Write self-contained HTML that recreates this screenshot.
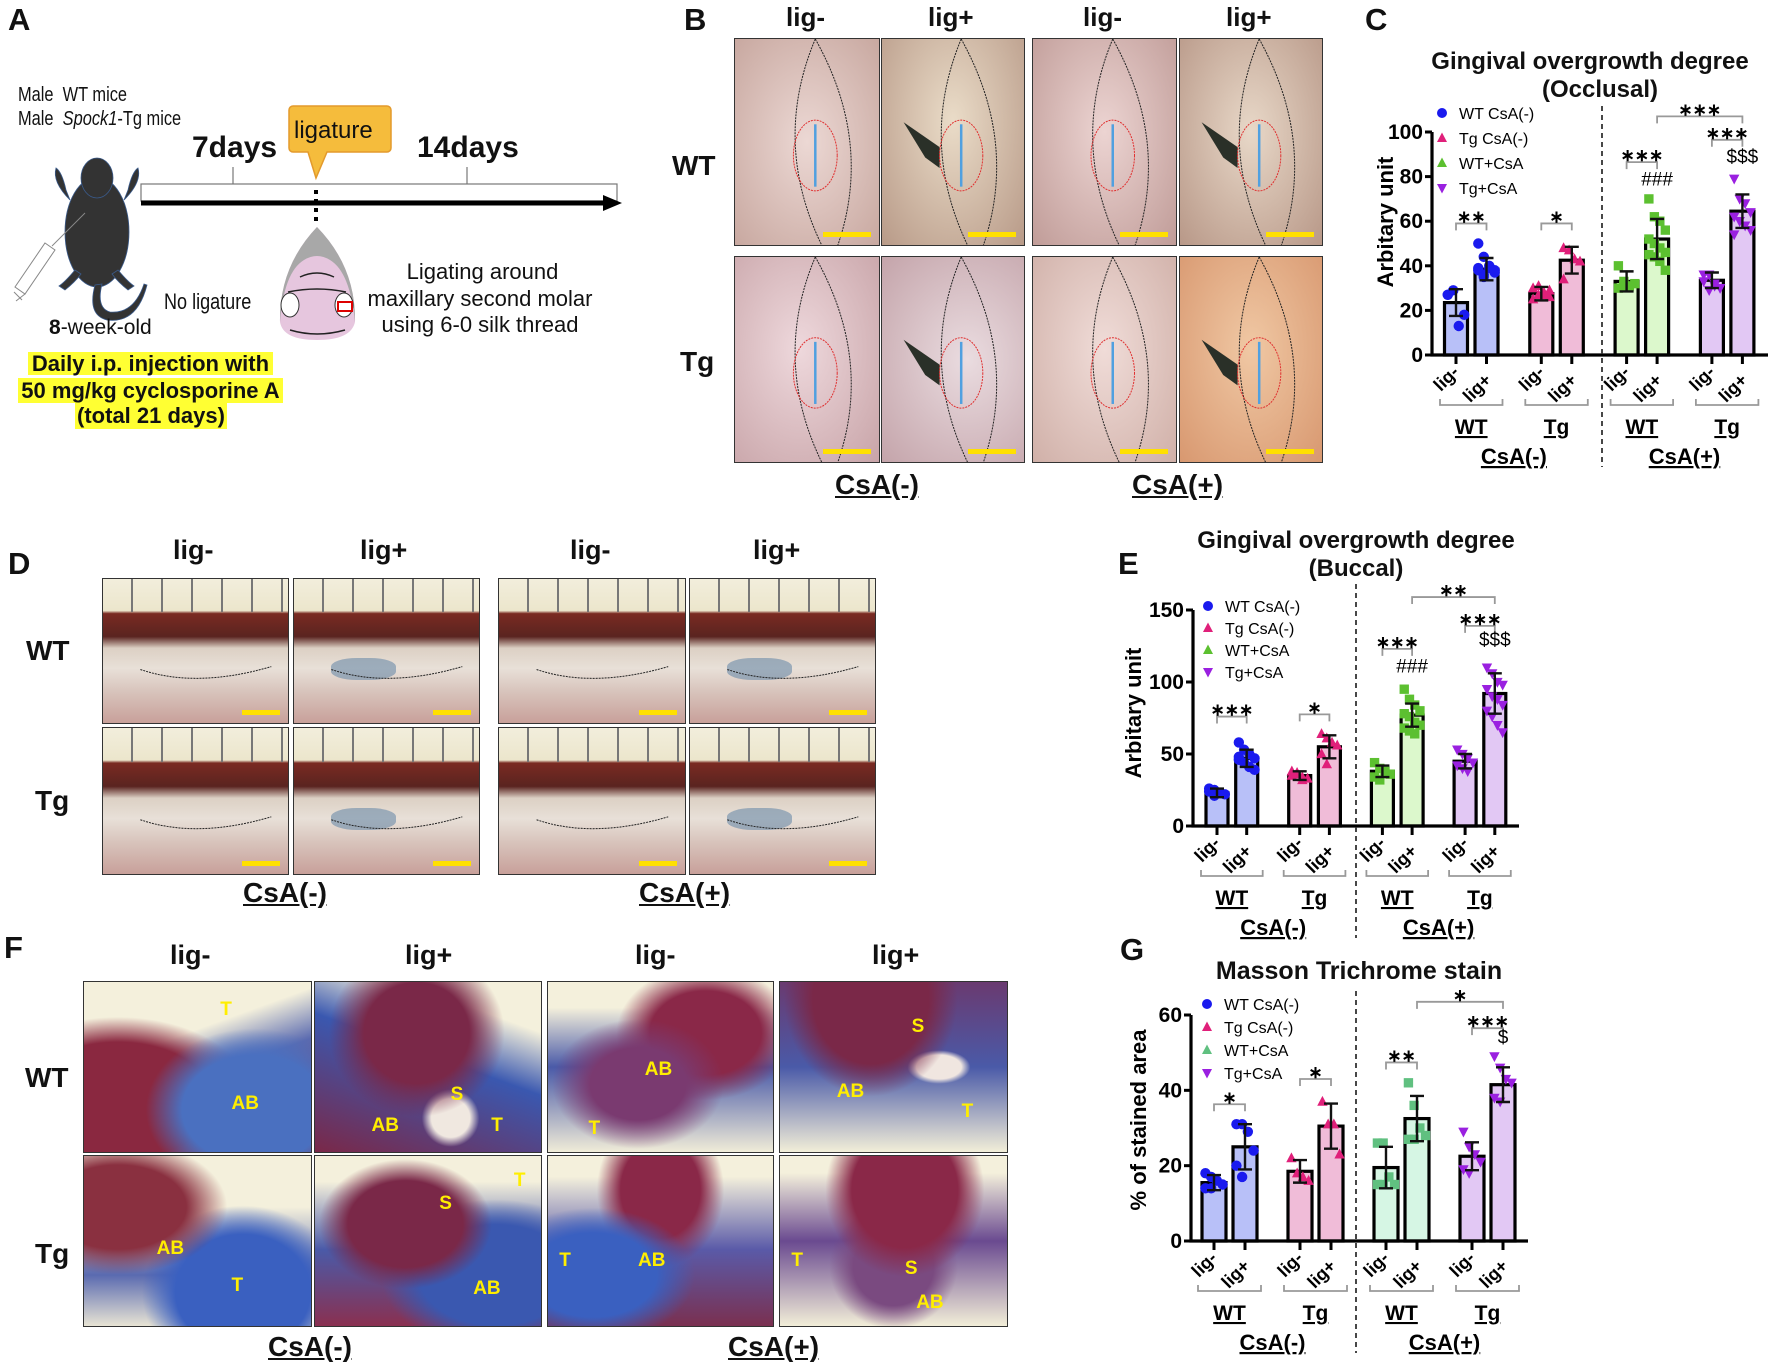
<!DOCTYPE html>
<html><head><meta charset="utf-8">
<style>
body{margin:0;background:#fff}
#page{position:relative;width:1772px;height:1365px;overflow:hidden;background:#fff;font-family:"Liberation Sans",Arial,sans-serif;color:#111}
.t{position:absolute;white-space:nowrap;line-height:1}
.b{font-weight:bold}
.lbl{font-weight:bold;font-size:31px}
.ph{position:absolute;border:1.5px solid #333;box-sizing:border-box;overflow:hidden}
.sb{position:absolute;height:5px;background:#ffe000;right:8px;bottom:8px;width:48px}
.yl{position:absolute;color:#ffee00;font-weight:bold;font-size:19px}
.n{display:inline-block;transform:scaleX(.82);transform-origin:left center}
</style></head><body>
<div id="page">

<div class="t lbl" style="left:8px;top:4px">A</div>
<div class="t" style="left:18px;top:85px;font-size:20px"><span class="n">Male&nbsp; WT mice</span></div>
<div class="t" style="left:18px;top:109px;font-size:20px"><span class="n">Male&nbsp; <i>Spock1</i>-Tg mice</span></div>
<div class="t b" style="left:192px;top:133px;font-size:30px">7days</div>
<div class="t b" style="left:417px;top:133px;font-size:30px">14days</div>
<svg style="position:absolute;left:0;top:0" width="640" height="450">
  <path d="M293,106 h94 a4,4 0 0 1 4,4 v38 a4,4 0 0 1 -4,4 h-60 l-11,26 l-8,-26 h-15 a4,4 0 0 1 -4,-4 v-38 a4,4 0 0 1 4,-4z" fill="#f5bc3c" stroke="#e39a2c" stroke-width="1.5"/>
  <rect x="141" y="184" width="476" height="17" fill="#fff" stroke="#777" stroke-width="1.2"/>
  <line x1="233" y1="167" x2="233" y2="184" stroke="#777" stroke-width="1.2"/>
  <line x1="467" y1="167" x2="467" y2="184" stroke="#777" stroke-width="1.2"/>
  <line x1="141" y1="203" x2="605" y2="203" stroke="#000" stroke-width="5"/>
  <polygon points="603,195 622,203 603,211" fill="#000"/>
  <line x1="316" y1="190" x2="316" y2="226" stroke="#000" stroke-width="4" stroke-dasharray="4,5"/>
  <g fill="#333" stroke="#3a5a8a" stroke-width="0.8">
    <ellipse cx="97" cy="232" rx="32" ry="55"/>
    <ellipse cx="97" cy="178" rx="16" ry="20"/>
    <path d="M70,200 q-18,-18 -14,-32 q6,4 10,22z"/>
    <path d="M124,200 q18,-18 14,-32 q-6,4 -10,22z"/>
    <path d="M75,270 q-10,12 -16,16 l6,4 q10,-8 16,-16z"/>
    <path d="M118,270 q10,12 16,16 l-6,4 q-10,-8 -16,-16z"/>
    <path d="M95,285 q-8,30 12,35 q30,4 40,-35 l-3,-1 q-10,30 -34,28 q-14,-4 -8,-28z"/>
  </g>
  <g stroke="#888" stroke-width="1" fill="#fff">
    <path d="M45,243 l10,7 l-30,44 l-10,-7z"/>
    <line x1="25" y1="294" x2="16" y2="301"/><line x1="14" y1="292" x2="22" y2="300"/>
    <line x1="52" y1="246" x2="85" y2="213"/>
  </g>
  <g>
    <path d="M317,227 q-38,40 -37,95 q3,18 37,18 q34,0 38,-18 q1,-55 -38,-95z" fill="#e6c6de"/>
    <path d="M317,227 q-38,40 -37,95 q4,-50 24,-62 q13,-8 26,0 q20,12 25,62 q1,-55 -38,-95z" fill="#a8a8a8"/>
    <path d="M300,277 q17,-8 34,0 M288,292 q29,-6 58,0 M290,330 q27,8 55,0" stroke="#222" fill="none" stroke-width="1.5"/>
    <ellipse cx="290" cy="305" rx="9" ry="12" fill="#fff" stroke="#333"/>
    <ellipse cx="344" cy="305" rx="9" ry="12" fill="#fff" stroke="#333"/>
    <rect x="338" y="302" width="14" height="9" fill="none" stroke="#d00" stroke-width="2"/>
  </g>
</svg>
<div class="t" style="left:164px;top:291px;font-size:22px"><span class="n">No ligature</span></div>
<div class="t" style="left:400px;top:261px;font-size:22px;width:165px;text-align:center">Ligating around</div>
<div class="t" style="left:360px;top:288px;font-size:22px;width:240px;text-align:center">maxillary second molar</div>
<div class="t" style="left:370px;top:314px;font-size:22px;width:220px;text-align:center">using 6-0 silk thread</div>
<div class="t" style="left:333px;top:119px;font-size:24px;width:0"><span style="position:absolute;left:-39px">ligature</span></div>
<div class="t" style="left:49px;top:317px;font-size:21px"><b>8</b>-week-old</div>
<div class="t b" style="left:28px;top:352px;font-size:22px;width:245px;height:23px;text-align:center;background:#ffff33;line-height:23px">Daily i.p. injection with</div>
<div class="t b" style="left:18px;top:378px;font-size:22px;width:265px;height:25px;text-align:center;background:#ffff33;line-height:25px">50 mg/kg cyclosporine A</div>
<div class="t b" style="left:75px;top:403px;font-size:22px;width:152px;height:26px;text-align:center;background:#ffff33;line-height:26px">(total 21 days)</div>

<div class="t lbl" style="left:684px;top:4px">B</div>
<div class="t b" style="left:786px;top:4px;font-size:26px">lig-</div>
<div class="t b" style="left:928px;top:4px;font-size:26px">lig+</div>
<div class="t b" style="left:1083px;top:4px;font-size:26px">lig-</div>
<div class="t b" style="left:1226px;top:4px;font-size:26px">lig+</div>
<div class="t b" style="left:672px;top:152px;font-size:28px">WT</div>
<div class="t b" style="left:680px;top:348px;font-size:28px">Tg</div>
<div class="t b" style="left:835px;top:471px;font-size:28px;text-decoration:underline">CsA(-)</div>
<div class="t b" style="left:1132px;top:471px;font-size:28px;text-decoration:underline">CsA(+)</div>
<div id="bphotos"></div>

<div class="t lbl" style="left:1365px;top:4px">C</div>
<div class="t b" style="left:1400px;top:50px;font-size:24px;width:380px;text-align:center">Gingival overgrowth degree</div>
<div class="t b" style="left:1400px;top:78px;font-size:24px;width:400px;text-align:center">(Occlusal)</div>

<div class="t lbl" style="left:8px;top:548px">D</div>
<div class="t b" style="left:173px;top:537px;font-size:27px">lig-</div>
<div class="t b" style="left:360px;top:537px;font-size:27px">lig+</div>
<div class="t b" style="left:570px;top:537px;font-size:27px">lig-</div>
<div class="t b" style="left:753px;top:537px;font-size:27px">lig+</div>
<div class="t b" style="left:26px;top:637px;font-size:28px">WT</div>
<div class="t b" style="left:35px;top:787px;font-size:28px">Tg</div>
<div class="t b" style="left:243px;top:879px;font-size:28px;text-decoration:underline">CsA(-)</div>
<div class="t b" style="left:639px;top:879px;font-size:28px;text-decoration:underline">CsA(+)</div>
<div id="dphotos"></div>

<div class="t lbl" style="left:1118px;top:548px">E</div>
<div class="t b" style="left:1180px;top:529px;font-size:24px;width:352px;text-align:center">Gingival overgrowth degree</div>
<div class="t b" style="left:1180px;top:557px;font-size:24px;width:352px;text-align:center">(Buccal)</div>

<div class="t lbl" style="left:4px;top:932px">F</div>
<div class="t b" style="left:170px;top:942px;font-size:27px">lig-</div>
<div class="t b" style="left:405px;top:942px;font-size:27px">lig+</div>
<div class="t b" style="left:635px;top:942px;font-size:27px">lig-</div>
<div class="t b" style="left:872px;top:942px;font-size:27px">lig+</div>
<div class="t b" style="left:25px;top:1064px;font-size:28px">WT</div>
<div class="t b" style="left:35px;top:1240px;font-size:28px">Tg</div>
<div class="t b" style="left:268px;top:1333px;font-size:28px;text-decoration:underline">CsA(-)</div>
<div class="t b" style="left:728px;top:1333px;font-size:28px;text-decoration:underline">CsA(+)</div>
<div id="fphotos"></div>

<div class="t lbl" style="left:1120px;top:934px">G</div>
<div class="t b" style="left:1180px;top:959px;font-size:25px;width:358px;text-align:center">Masson Trichrome stain</div>

<svg id="charts" style="position:absolute;left:0;top:0" width="1772" height="1365"></svg>
</div>

<script>
const groupNames = ["WT CsA(-)", "Tg CsA(-)", "WT+CsA", "Tg+CsA"];
const barLabels = ["lig-", "lig+"];
const genotypeLabels = ["WT", "Tg", "WT", "Tg"];
const treatmentLabels = ["CsA(-)", "CsA(+)"];

const cTicks = [0, 20, 40, 60, 80, 100];
const cMeans = [23.5, 38.5, 27.5, 42.5, 33, 52, 33.5, 64.5];
const cSD = [6, 5, 3, 6, 4.5, 9, 3.5, 7.5];
const cPoints = [
  [27, 29, 13, 18, 27],
  [50, 44, 39, 37, 38, 36, 40, 38, 39, 35],
  [25, 27, 28, 29, 30, 31, 27, 26],
  [48, 47, 43, 42, 34],
  [40, 33, 31, 32, 30, 31],
  [70, 62, 60, 56, 52, 50, 48, 46, 45, 44, 42, 38],
  [36, 36, 32, 30, 33, 29, 31],
  [79, 70, 68, 64, 62, 60, 58, 56, 54, 60]
];
const cSig = [[0, 1, 59, "**"], [2, 3, 59, "*"], [4, 5, 86.5, "***"], [6, 7, 96.5, "***"], [5, 7, 107, "***"]];
const cMarks = [[5, 76, "###"], [7, 86, "$$$"]];

const eTicks = [0, 50, 100, 150];
const eMeans = [23, 47, 35, 55, 38, 77, 45, 92];
const eSD = [3, 6, 3, 8, 4, 8, 5, 14];
const ePoints = [
  [26, 25, 23, 22, 24, 21],
  [58, 53, 50, 47, 46, 44, 41, 39, 48],
  [38, 36, 34, 33, 35, 37, 32],
  [64, 61, 58, 56, 50, 43],
  [44, 40, 38, 36, 34, 32],
  [95, 88, 84, 80, 78, 76, 72, 70, 68, 66, 64],
  [53, 50, 47, 44, 42, 40, 38],
  [110, 106, 100, 98, 95, 90, 88, 84, 80, 76, 70, 65]
];
const eSig = [[0, 1, 76, "***"], [2, 3, 77.5, "*"], [4, 5, 123, "***"], [6, 7, 139, "***"], [5, 7, 159, "**"]];
const eMarks = [[5, 106.5, "###"], [7, 125, "$$$"]];

const gTicks = [0, 20, 40, 60];
const gMeans = [15.5, 25, 18.5, 30.5, 19.5, 32.5, 22.5, 41.5];
const gSD = [2, 6, 3, 6, 5.5, 6, 3.7, 4.6];
const gPoints = [
  [18, 17, 16, 15, 14, 14],
  [31, 31, 29, 24, 20, 17],
  [22, 18, 17, 16],
  [37, 31, 31, 23],
  [26, 26, 17, 15, 15, 15],
  [42, 36, 30, 28, 27, 27],
  [29, 25, 23, 21, 19, 18],
  [49, 46, 43, 42, 38, 37]
];
const gSig = [[0, 1, 36.3, "*"], [2, 3, 43, "*"], [4, 5, 47.4, "**"], [6, 7, 56.5, "***"], [5, 7, 63.5, "*"]];
const gMarks = [[7, 52.5, "$"]];

const NS = "http://www.w3.org/2000/svg";
const svg = document.getElementById("charts");
function mk(tag, attrs, parent) {
  const e = document.createElementNS(NS, tag);
  for (const k in attrs) e.setAttribute(k, attrs[k]);
  (parent || svg).appendChild(e);
  return e;
}
function txt(parent, x, y, s, size, extra) {
  const e = mk("text", Object.assign({x: x, y: y, "font-size": size, "font-family": "Liberation Sans, Arial, sans-serif"}, extra || {}), parent);
  e.textContent = s;
  return e;
}
const markerColors = ["#1a1aee", "#e0207a", "#5cc030", "#9a20e0"];
function marker(parent, g, x, y, r) {
  const c = markerColors[g];
  if (g === 0) return mk("circle", {cx: x, cy: y, r: r, fill: c}, parent);
  if (g === 1) return mk("polygon", {points: `${x},${y - r * 1.1} ${x + r},${y + r * 0.8} ${x - r},${y + r * 0.8}`, fill: c}, parent);
  if (g === 2) return mk("rect", {x: x - r * 0.9, y: y - r * 0.9, width: r * 1.8, height: r * 1.8, fill: c}, parent);
  return mk("polygon", {points: `${x},${y + r * 1.1} ${x + r},${y - r * 0.8} ${x - r},${y - r * 0.8}`, fill: c}, parent);
}

function drawChart(cfg) {
  const ch = mk("g", {});
  
  
  const yMax = cfg.ticks[cfg.ticks.length - 1];
  const ys = v => cfg.y0 - (v / yMax) * (cfg.y0 - cfg.yTop);
  const xc = i => cfg.x1 + Math.floor(i / 2) * cfg.gStep + (i % 2) * cfg.pStep;
  const bw = cfg.bw;
  for (let i = 0; i < cfg.means.length; i++) {
    const g = Math.floor(i / 2);
    const bar = mk("rect", {x: xc(i) - bw / 2, y: ys(cfg.means[i]), width: bw, height: cfg.y0 - ys(cfg.means[i]), fill: cfg.fills[g], stroke: "#000", "stroke-width": 3.2}, ch);
    
    
  }
  for (let i = 0; i < cfg.points.length; i++) {
    const g = Math.floor(i / 2);
    const pts = cfg.points[i];
    pts.forEach((v, k) => {
      const off = ((k % 4) - 1.5) * (bw / 4.2);
      const m = marker(ch, g, xc(i) + off, ys(v), 5.2);
      if (g === 2 && cfg.green2) m.setAttribute("fill", cfg.green2);
      
      
    });
  }
  for (let i = 0; i < cfg.means.length; i++) {
    const x = xc(i), a = ys(cfg.means[i] + cfg.sd[i]), b = ys(cfg.means[i] - cfg.sd[i]);
    const eb = mk("path", {d: `M${x},${a}V${b}M${x - 7},${a}H${x + 7}M${x - 7},${b}H${x + 7}`, stroke: "#111", "stroke-width": 2.4, fill: "none"}, ch);
    
    
  }
  const ax = mk("path", {d: `M${cfg.ax},${cfg.yTop}V${cfg.y0}H${cfg.xEnd}`, stroke: "#000", "stroke-width": 3.2, fill: "none"}, ch);
  
  
  cfg.ticks.forEach(t => {
    mk("line", {x1: cfg.ax - 7, x2: cfg.ax, y1: ys(t), y2: ys(t), stroke: "#000", "stroke-width": 3}, ch);
    const tl = txt(ch, cfg.ax - 9, ys(t) + 7, String(t), 21, {"font-weight": "bold", "text-anchor": "end"});
    
    
  });
  for (let i = 0; i < cfg.means.length; i++) {
    const x = xc(i);
    mk("line", {x1: x, x2: x, y1: cfg.y0, y2: cfg.y0 + 9, stroke: "#000", "stroke-width": 3}, ch);
    const dy = (i % 2) ? 2 : -6;
    const lx = x + 6 + ((i % 2) ? 0 : -2), ly = cfg.y0 + 16 + dy + 8;
    const l = txt(ch, lx, ly, barLabels[i % 2], 18, {"font-weight": "bold", "text-anchor": "end", transform: `rotate(-45 ${lx} ${ly})`});
    
    
  }
  for (let g = 0; g < 4; g++) {
    const a = xc(2 * g) - 16, b = xc(2 * g + 1) + 16, y = cfg.y0 + 50;
    mk("path", {d: `M${a},${y - 6}V${y}H${b}V${y - 6}`, stroke: "#999", "stroke-width": 1.8, fill: "none"}, ch);
    const gl = txt(ch, (a + b) / 2, cfg.y0 + 79, genotypeLabels[g], 21, {"font-weight": "bold", "text-anchor": "middle", "text-decoration": "underline"});
    
    
  }
  for (let k = 0; k < 2; k++) {
    const cx = (xc(4 * k) + xc(4 * k + 3)) / 2;
    const tl = txt(ch, cx, cfg.y0 + 109, treatmentLabels[k], 22, {"font-weight": "bold", "text-anchor": "middle", "text-decoration": "underline"});
    
    
  }
  const dv = mk("line", {x1: cfg.div, x2: cfg.div, y1: cfg.divTop, y2: cfg.y0 + 112, stroke: "#333", "stroke-width": 1.8, "stroke-dasharray": "5,4"}, ch);
  
  
  cfg.sig.forEach(s => {
    const a = xc(s[0]), b = xc(s[1]), y = ys(s[2]);
    mk("path", {d: `M${a},${y + 7}V${y}H${b}V${y + 7}`, stroke: "#999", "stroke-width": 1.8, fill: "none"}, ch);
    const st = txt(ch, (a + b) / 2, y - 1, s[3].replace(/\*/g, "∗"), 17, {"font-weight": "bold", "text-anchor": "middle"});
    
    
  });
  cfg.marks.forEach(m => {
    const t = txt(ch, xc(m[0]), ys(m[1]), m[2], 19, {"text-anchor": "middle"});
    
    
  });
  const yt = txt(ch, cfg.ytx, cfg.yty, cfg.ytitle, 22, {"font-weight": "bold", "text-anchor": "middle", transform: `rotate(-90 ${cfg.ytx} ${cfg.yty})`});
  
  
  groupNames.forEach((n, g) => {
    const y = cfg.legY + g * cfg.legStep;
    const m = marker(ch, g === 2 ? 1 : g, cfg.legX, y, 5);
    if (g === 2) m.setAttribute("fill", cfg.green2 || markerColors[2]);
    
    
    const t = txt(ch, cfg.legX + 17, y + 6, n, 16);
    
    
  });
}

drawChart({name: "chart-c-occlusal", ticks: cTicks, means: cMeans, sd: cSD, points: cPoints, sig: cSig, marks: cMarks,
  ax: 1432, xEnd: 1768, y0: 355, yTop: 132, x1: 1456, gStep: 85.3, pStep: 30.5, bw: 23,
  fills: ["#b8c0f8", "#f0bcd8", "#dcf8cc", "#e2c8f4"], div: 1602, divTop: 106,
  ytitle: "Arbitary unit", ytx: 1393, yty: 222, legX: 1442, legY: 113, legStep: 25});
drawChart({name: "chart-e-buccal", ticks: eTicks, means: eMeans, sd: eSD, points: ePoints, sig: eSig, marks: eMarks,
  ax: 1193, xEnd: 1519, y0: 826, yTop: 610, x1: 1217, gStep: 82.7, pStep: 29.7, bw: 22,
  fills: ["#b8c0f8", "#f0bcd8", "#dcf8cc", "#e2c8f4"], div: 1356, divTop: 584,
  ytitle: "Arbitary unit", ytx: 1141, yty: 713, legX: 1208, legY: 606, legStep: 22});
drawChart({name: "chart-g-masson", ticks: gTicks, means: gMeans, sd: gSD, points: gPoints, sig: gSig, marks: gMarks,
  ax: 1191, xEnd: 1528, y0: 1241, yTop: 1015, x1: 1214, gStep: 86, pStep: 31, bw: 24,
  fills: ["#b8c0f8", "#f0bcd8", "#d6f6e4", "#e2c8f4"], div: 1356, divTop: 991, green2: "#60c080",
  ytitle: "% of stained area", ytx: 1146, yty: 1120, legX: 1207, legY: 1004, legStep: 23});

function photo(container, name, x, y, w, h, bg, extra) {
  const d = document.createElement("div");
  d.className = "ph";
  d.style.cssText = `left:${x}px;top:${y}px;width:${w}px;height:${h}px;background:${bg}`;
  
  
  d.innerHTML = extra || "";
  document.getElementById(container).appendChild(d);
  return d;
}
const bx = [[734, 880], [881, 1025], [1032, 1177], [1179, 1323]], by = [[38, 246], [256, 463]];
const bBg = [
  ["radial-gradient(ellipse at 50% 50%,#ecd8d4,#c8a8a0)", "radial-gradient(ellipse at 50% 40%,#eadcc8,#b89a88)", "radial-gradient(ellipse at 50% 45%,#ecd4d2,#c09c98)", "radial-gradient(ellipse at 50% 45%,#e8d8c8,#b89888)"],
  ["radial-gradient(ellipse at 45% 45%,#eed8dc,#c8a4a8)", "radial-gradient(ellipse at 60% 50%,#eadce0,#c4a4aa)", "radial-gradient(ellipse at 50% 45%,#f0dcd8,#d0b0a8)", "radial-gradient(ellipse at 50% 45%,#f0c8a4,#d89870)"]
];
for (let r = 0; r < 2; r++) for (let c = 0; c < 4; c++) {
  const w = bx[c][1] - bx[c][0], h = by[r][1] - by[r][0];
  let ex = `<svg width="${w}" height="${h}" style="position:absolute;left:0;top:0"><path d="M${w * 0.55},0 Q${w * 0.25},${h * 0.5} ${w * 0.6},${h}" stroke="#222" stroke-dasharray="2,1" fill="none"/><path d="M${w * 0.55},0 Q${w * 0.95},${h * 0.5} ${w * 0.7},${h}" stroke="#222" stroke-dasharray="2,1" fill="none"/>`;
  if (c % 2 === 1) ex += `<path d="M${w * 0.15},${h * 0.4} l${w * 0.25},${h * 0.12} l0,${h * 0.1} l-${w * 0.1},-${h * 0.05}z" fill="#2a3028"/>`;
  ex += `<ellipse cx="${w * 0.55}" cy="${h * 0.56}" rx="${w * 0.15}" ry="${h * 0.17}" fill="none" stroke="#e03030" stroke-dasharray="2,1"/><line x1="${w * 0.55}" y1="${h * 0.41}" x2="${w * 0.55}" y2="${h * 0.71}" stroke="#50a0e0" stroke-width="2.5"/></svg><div class="sb"></div>`;
  photo("bphotos", `photo-b-r${r}-c${c}`, bx[c][0], by[r][0], w, h, bBg[r][c], ex);
}
const dx = [[102, 289], [293, 480], [498, 686], [689, 876]], dy = [[578, 724], [727, 875]];
for (let r = 0; r < 2; r++) for (let c = 0; c < 4; c++) {
  const w = dx[c][1] - dx[c][0], h = dy[r][1] - dy[r][0];
  const lig = c % 2 === 1;
  const bg = `linear-gradient(#f2eedc 0%,#ece6cc 22%,#7a2a22 24%,#5a2420 40%,#dcd0c4 48%,#e8e0d8 62%,#d8c4bc 78%,#c8a09a 100%)`;
  let ex = `<div style="position:absolute;left:0;top:0;width:100%;height:23%;background:repeating-linear-gradient(90deg,transparent 0 28px,#777 28px 30px)"></div>`;
  if (lig) ex += `<div style="position:absolute;left:20%;top:55%;width:35%;height:15%;background:#6a8aa8;opacity:.6;border-radius:40%"></div>`;
  ex += `<svg width="${w}" height="${h}" style="position:absolute;left:0;top:0"><path d="M${w * 0.2},${h * 0.62} Q${w * 0.5},${h * 0.75} ${w * 0.9},${h * 0.6}" stroke="#222" stroke-dasharray="2,1" fill="none"/></svg><div class="sb" style="width:38px"></div>`;
  photo("dphotos", `photo-d-r${r}-c${c}`, dx[c][0], dy[r][0], w, h, bg, ex);
}
const fx = [[83, 312], [314, 542], [547, 774], [779, 1008]], fy = [[981, 1153], [1155, 1327]];
const fBg = [
  ["radial-gradient(ellipse at 75% 75%,#4a70c0 0 30%,transparent 45%),radial-gradient(ellipse at 15% 70%,#8a2840 0 35%,transparent 50%),linear-gradient(160deg,#f4f0dc 0 35%,#5a6ab0 55%,#8a3050 100%)",
   "radial-gradient(ellipse at 45% 30%,#7a2848 0 30%,transparent 50%),radial-gradient(ellipse at 60% 80%,#f0e8e0 0 10%,transparent 15%),linear-gradient(200deg,#f4f0dc 0 20%,#3a58b0 45%,#7a2848 100%)",
   "radial-gradient(ellipse at 40% 60%,#7a3a70 0 25%,transparent 45%),radial-gradient(ellipse at 70% 30%,#8a2848 0 25%,transparent 40%),linear-gradient(180deg,#f4f0dc 0 15%,#4a5aa8 50%,#f0ecd8 100%)",
   "radial-gradient(ellipse at 40% 10%,#7a2848 0 30%,transparent 45%),radial-gradient(ellipse at 70% 50%,#f0e6e0 0 10%,transparent 14%),linear-gradient(180deg,#6a3a70 0%,#4a5aa8 50%,#f2eed8 100%)"],
  ["radial-gradient(ellipse at 15% 30%,#8a3040 0 25%,transparent 40%),radial-gradient(ellipse at 70% 80%,#3a60c0 0 30%,transparent 45%),linear-gradient(180deg,#f4f0dc 0 30%,#5a6ab0 70%,#e8e4d4 100%)",
   "radial-gradient(ellipse at 40% 40%,#7a2848 0 30%,transparent 45%),radial-gradient(ellipse at 80% 70%,#3a58b0 0 30%,transparent 45%),linear-gradient(180deg,#f4f0dc 0 15%,#4a5aa8 55%,#8a3050 100%)",
   "radial-gradient(ellipse at 20% 70%,#3a60c0 0 25%,transparent 40%),radial-gradient(ellipse at 50% 20%,#8a2848 0 25%,transparent 40%),linear-gradient(180deg,#f4f0dc 0 12%,#5a5aa8 55%,#7a3050 100%)",
   "radial-gradient(ellipse at 55% 20%,#8a2848 0 30%,transparent 45%),radial-gradient(ellipse at 50% 65%,#7a4a80 0 25%,transparent 40%),linear-gradient(180deg,#f4f0dc 0 10%,#6a4a90 50%,#f2eed8 100%)"]
];
const fLab = [
  [[["T", 60, 10], ["AB", 65, 65]], [["AB", 25, 78], ["S", 60, 60], ["T", 78, 78]], [["AB", 43, 45], ["T", 18, 80]], [["AB", 25, 58], ["S", 58, 20], ["T", 80, 70]]],
  [[["AB", 32, 48], ["T", 65, 70]], [["T", 88, 8], ["S", 55, 22], ["AB", 70, 72]], [["T", 5, 55], ["AB", 40, 55]], [["T", 5, 55], ["S", 55, 60], ["AB", 60, 80]]]
];
for (let r = 0; r < 2; r++) for (let c = 0; c < 4; c++) {
  const w = fx[c][1] - fx[c][0], h = fy[r][1] - fy[r][0];
  let ex = fLab[r][c].map(l => `<div class="yl" style="left:${l[1]}%;top:${l[2]}%">${l[0]}</div>`).join("");
  photo("fphotos", `photo-f-r${r}-c${c}`, fx[c][0], fy[r][0], w, h, fBg[r][c], ex);
}
</script>
</body></html>
